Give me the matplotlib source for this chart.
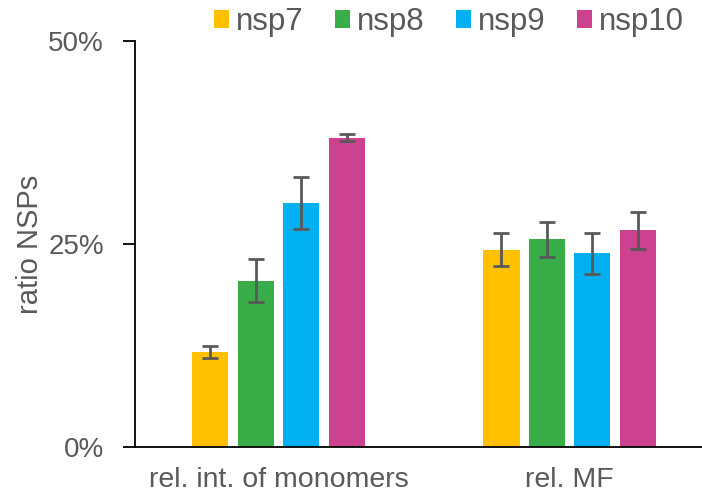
import numpy as np
import matplotlib.pyplot as plt

plt.rcParams['font.family'] = ['Liberation Sans', 'DejaVu Sans']

# ================= DATA =================
categories = ["rel. int. of monomers", "rel. MF"]
series = ["nsp7", "nsp8", "nsp9", "nsp10"]
colors = ["#FFC000", "#39AD48", "#00B0F0", "#CC4190"]

# values in %, one list per series (monomers, MF)
nsp7 = [11.7, 24.3]
nsp8 = [20.5, 25.6]
nsp9 = [30.0, 23.85]
nsp10 = [38.1, 26.7]

nsp7_err = [0.7, 2.05]
nsp8_err = [2.6, 2.15]
nsp9_err = [3.2, 2.5]
nsp10_err = [0.45, 2.3]
# =========================================

values = [nsp7, nsp8, nsp9, nsp10]
errors = [nsp7_err, nsp8_err, nsp9_err, nsp10_err]

fig = plt.figure(figsize=(7.02, 4.97), dpi=100)
ax = fig.add_axes([135 / 702, 50 / 497, 567 / 702, 406 / 497])

x = np.arange(len(categories))
width = 0.124
step = 0.156
grey = "#595959"

for i, (name, vals, errs, c) in enumerate(zip(series, values, errors, colors)):
    pos = x + (i - 1.5) * step
    ax.bar(pos, vals, width, color=c, label=name, zorder=2)
    ax.errorbar(pos, vals, yerr=errs, fmt="none", ecolor=grey,
                elinewidth=2, capsize=6, capthick=2, zorder=3)

ax.set_ylim(0, 50)
ax.set_xlim(-0.493, 1.455)
ax.set_yticks([0, 25, 50])
ax.set_yticklabels(["0%", "25%", "50%"])
ax.set_xticks(x)
ax.set_xticklabels(categories)

ax.spines["top"].set_visible(False)
ax.spines["right"].set_visible(False)
ax.spines["left"].set_linewidth(1.3)
ax.spines["bottom"].set_linewidth(1.3)
ax.tick_params(axis="y", length=8.6, width=1.3, labelsize=20, labelcolor=grey, pad=13.7)
ax.tick_params(axis="x", length=0, labelsize=20.5, labelcolor=grey, pad=14.5)

ax.set_ylabel("ratio NSPs", fontsize=21, color=grey, labelpad=3)

ax.legend(loc="center", bbox_to_anchor=(449 / 702, 1 - 22 / 497),
          bbox_transform=fig.transFigure, ncol=4,
          frameon=False, fontsize=22.5, labelcolor=grey,
          handlelength=0.48, handleheight=0.48, handletextpad=0.23,
          columnspacing=1.0, borderpad=0, borderaxespad=0)

fig.savefig("out.png", dpi=100)
